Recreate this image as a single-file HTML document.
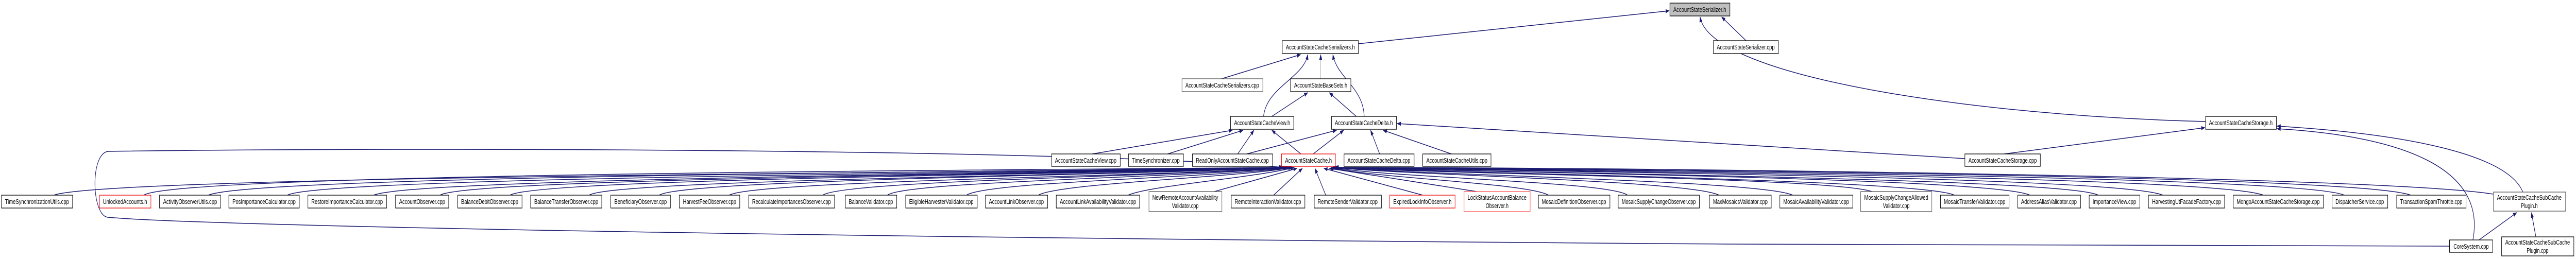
<!DOCTYPE html>
<html><head><meta charset="utf-8"><style>
html,body{margin:0;padding:0;background:#fff;width:100%;height:100%;overflow:hidden}
svg{display:block;width:100vw;height:100vh}
text{font-family:"Liberation Sans",Arial,sans-serif;font-size:13px;fill:#000;text-anchor:middle}
.b rect{fill:#fff;stroke:#000;stroke-width:1.3}
.g rect{stroke:#555}
.r rect{stroke:#e00}
.e{fill:none;stroke:#191970;stroke-width:1.5}
</style></head><body>
<svg viewBox="0 0 7170 503" preserveAspectRatio="none" xmlns="http://www.w3.org/2000/svg">
<defs><marker id="a" markerWidth="11" markerHeight="8" refX="10" refY="4" orient="auto" markerUnits="userSpaceOnUse"><path d="M0,0L11,4L0,8z" fill="#191970"/></marker></defs>
<g marker-end="url(#a)">
<path class="e" d="M3781,85 L4646,21"/>
<path class="e" d="M4860,79 L4792,33"/>
<path class="e" d="M6139,236 C5500,225 4760,150 4732,33"/>
<path class="e" d="M3400,153 L3620,106"/>
<path class="e" d="M3676,153 L3676,106" style="stroke:#999;stroke-width:1"/>
<path class="e" d="M3517,226 C3525,170 3630,150 3640,106"/>
<path class="e" d="M3797,226 C3795,170 3720,150 3710,106"/>
<path class="e" d="M3540,226 L3640,180"/>
<path class="e" d="M3775,226 L3700,180"/>
<path class="e" d="M5469,308 L3889,240"/>
<path class="e" d="M5578,299 L6137,248"/>
<path class="e" d="M3040,299 L3430,253"/>
<path class="e" d="M3250,299 L3460,253"/>
<path class="e" d="M3445,299 L3490,253"/>
<path class="e" d="M3470,299 L3720,253"/>
<path class="e" d="M3621,299 L3540,253"/>
<path class="e" d="M3655,299 L3740,253"/>
<path class="e" d="M3840,299 L3815,253"/>
<path class="e" d="M4040,299 L3850,253"/>
<path class="e" d="M7022,373 C6980,300 6700,260 6338,245"/>
<path class="e" d="M6883,466 C6920,330 6700,265 6338,250"/>
<path class="e" d="M6900,466 L7005,413"/>
<path class="e" d="M7058,459 L7046,413"/>
<path class="e" d="M6818,478 L4800,474 C2400,462 600,440 300,422 C255,418 250,300 300,294 C1200,285 3000,290 3570,325"/>
<path class="e" d="M150,379 C300,340 3000,335 3572,325"/>
<path class="e" d="M400,379 C500,335 3000,330 3574,325"/>
<path class="e" d="M580,379 C700,340 3000,333 3576,325"/>
<path class="e" d="M800,379 C900,342 3100,335 3578,325"/>
<path class="e" d="M1040,379 C1150,345 3100,336 3580,325"/>
<path class="e" d="M1225,379 C1300,345 3100,338 3582,325"/>
<path class="e" d="M1420,379 C1500,345 3200,338 3584,325"/>
<path class="e" d="M1640,379 C1700,348 3200,340 3586,325"/>
<path class="e" d="M1835,379 C1900,348 3200,340 3588,325"/>
<path class="e" d="M2030,379 C2100,350 3300,342 3590,325"/>
<path class="e" d="M2290,379 C2350,350 3300,342 3592,325"/>
<path class="e" d="M2470,379 C2520,352 3300,345 3594,325"/>
<path class="e" d="M2690,379 C2750,352 3400,345 3596,325"/>
<path class="e" d="M2890,379 C2950,355 3450,345 3598,325"/>
<path class="e" d="M3140,379 C3200,360 3500,345 3602,325"/>
<path class="e" d="M3380,372 L3610,327"/>
<path class="e" d="M3545,379 L3625,327"/>
<path class="e" d="M3690,379 L3660,327"/>
<path class="e" d="M3960,379 L3685,327"/>
<path class="e" d="M4110,372 L3700,327"/>
<path class="e" d="M4310,379 C4250,355 3800,345 3705,325"/>
<path class="e" d="M4530,379 C4480,352 3850,345 3708,325"/>
<path class="e" d="M4785,379 C4700,350 3900,340 3710,325"/>
<path class="e" d="M4990,379 C4900,350 3950,340 3711,325"/>
<path class="e" d="M5210,372 C5100,345 4000,338 3712,325"/>
<path class="e" d="M5440,379 C5350,348 4000,336 3713,325"/>
<path class="e" d="M5650,379 C5550,345 4100,335 3714,325"/>
<path class="e" d="M5840,379 C5750,345 4100,335 3715,325"/>
<path class="e" d="M6020,379 C5900,342 4200,333 3716,325"/>
<path class="e" d="M6300,379 C6150,340 4200,332 3716,325"/>
<path class="e" d="M6525,379 C6400,340 4300,330 3716,325"/>
<path class="e" d="M6710,379 C6550,338 4300,328 3716,325"/>
<path class="e" d="M6940,377 C6600,340 4400,325 3716,325"/>
</g>

<g class="b"><rect x="4648" y="6" width="167" height="25" style="fill:#bfbfbf"/><text x="4731" y="23" textLength="147" lengthAdjust="spacingAndGlyphs">AccountStateSerializer.h</text></g>
<g class="b"><rect x="4769" y="79" width="181" height="25"/><text x="4859" y="96" textLength="161" lengthAdjust="spacingAndGlyphs">AccountStateSerializer.cpp</text></g>
<g class="b"><rect x="3569" y="79" width="212" height="25"/><text x="3675" y="96" textLength="192" lengthAdjust="spacingAndGlyphs">AccountStateCacheSerializers.h</text></g>
<g class="b g"><rect x="3290" y="153" width="225" height="25"/><text x="3402" y="170" textLength="205" lengthAdjust="spacingAndGlyphs">AccountStateCacheSerializers.cpp</text></g>
<g class="b"><rect x="3592" y="153" width="168" height="25"/><text x="3676" y="170" textLength="148" lengthAdjust="spacingAndGlyphs">AccountStateBaseSets.h</text></g>
<g class="b"><rect x="3425" y="226" width="176" height="25"/><text x="3513" y="243" textLength="156" lengthAdjust="spacingAndGlyphs">AccountStateCacheView.h</text></g>
<g class="b"><rect x="3706" y="226" width="181" height="25"/><text x="3796" y="243" textLength="161" lengthAdjust="spacingAndGlyphs">AccountStateCacheDelta.h</text></g>
<g class="b"><rect x="6139" y="226" width="197" height="25"/><text x="6237" y="243" textLength="177" lengthAdjust="spacingAndGlyphs">AccountStateCacheStorage.h</text></g>

<g class="b"><rect x="2927" y="299" width="191" height="24"/><text x="3022" y="316" textLength="171" lengthAdjust="spacingAndGlyphs">AccountStateCacheView.cpp</text></g>
<g class="b"><rect x="3141" y="299" width="153" height="24"/><text x="3217" y="316" textLength="133" lengthAdjust="spacingAndGlyphs">TimeSynchronizer.cpp</text></g>
<g class="b"><rect x="3319" y="299" width="223" height="24"/><text x="3430" y="316" textLength="203" lengthAdjust="spacingAndGlyphs">ReadOnlyAccountStateCache.cpp</text></g>
<g class="b r"><rect x="3567" y="299" width="150" height="24"/><text x="3642" y="316" textLength="130" lengthAdjust="spacingAndGlyphs">AccountStateCache.h</text></g>
<g class="b"><rect x="3741" y="299" width="195" height="24"/><text x="3838" y="316" textLength="175" lengthAdjust="spacingAndGlyphs">AccountStateCacheDelta.cpp</text></g>
<g class="b"><rect x="3960" y="299" width="190" height="24"/><text x="4055" y="316" textLength="170" lengthAdjust="spacingAndGlyphs">AccountStateCacheUtils.cpp</text></g>
<g class="b"><rect x="5469" y="299" width="210" height="24"/><text x="5574" y="316" textLength="190" lengthAdjust="spacingAndGlyphs">AccountStateCacheStorage.cpp</text></g>

<g class="b"><rect x="4" y="379" width="198" height="25"/><text x="103" y="396" textLength="178" lengthAdjust="spacingAndGlyphs">TimeSynchronizationUtils.cpp</text></g>
<g class="b r"><rect x="277" y="379" width="143" height="25"/><text x="348" y="396" textLength="123" lengthAdjust="spacingAndGlyphs">UnlockedAccounts.h</text></g>
<g class="b"><rect x="444" y="379" width="170" height="25"/><text x="529" y="396" textLength="150" lengthAdjust="spacingAndGlyphs">ActivityObserverUtils.cpp</text></g>
<g class="b"><rect x="637" y="379" width="196" height="25"/><text x="735" y="396" textLength="176" lengthAdjust="spacingAndGlyphs">PosImportanceCalculator.cpp</text></g>
<g class="b"><rect x="857" y="379" width="219" height="25"/><text x="966" y="396" textLength="199" lengthAdjust="spacingAndGlyphs">RestoreImportanceCalculator.cpp</text></g>
<g class="b"><rect x="1101" y="379" width="148" height="25"/><text x="1175" y="396" textLength="128" lengthAdjust="spacingAndGlyphs">AccountObserver.cpp</text></g>
<g class="b"><rect x="1274" y="379" width="179" height="25"/><text x="1363" y="396" textLength="159" lengthAdjust="spacingAndGlyphs">BalanceDebitObserver.cpp</text></g>
<g class="b"><rect x="1477" y="379" width="198" height="25"/><text x="1576" y="396" textLength="178" lengthAdjust="spacingAndGlyphs">BalanceTransferObserver.cpp</text></g>
<g class="b"><rect x="1700" y="379" width="166" height="25"/><text x="1783" y="396" textLength="146" lengthAdjust="spacingAndGlyphs">BeneficiaryObserver.cpp</text></g>
<g class="b"><rect x="1891" y="379" width="168" height="25"/><text x="1975" y="396" textLength="148" lengthAdjust="spacingAndGlyphs">HarvestFeeObserver.cpp</text></g>
<g class="b"><rect x="2084" y="379" width="239" height="25"/><text x="2203" y="396" textLength="219" lengthAdjust="spacingAndGlyphs">RecalculateImportancesObserver.cpp</text></g>
<g class="b"><rect x="2353" y="379" width="143" height="25"/><text x="2424" y="396" textLength="123" lengthAdjust="spacingAndGlyphs">BalanceValidator.cpp</text></g>
<g class="b"><rect x="2521" y="379" width="199" height="25"/><text x="2620" y="396" textLength="179" lengthAdjust="spacingAndGlyphs">EligibleHarvesterValidator.cpp</text></g>
<g class="b"><rect x="2743" y="379" width="173" height="25"/><text x="2829" y="396" textLength="153" lengthAdjust="spacingAndGlyphs">AccountLinkObserver.cpp</text></g>
<g class="b"><rect x="2940" y="379" width="232" height="25"/><text x="3056" y="396" textLength="212" lengthAdjust="spacingAndGlyphs">AccountLinkAvailabilityValidator.cpp</text></g>
<g class="b g"><rect x="3198" y="372" width="203" height="39"/><text x="3299" y="388" textLength="183" lengthAdjust="spacingAndGlyphs">NewRemoteAccountAvailability</text><text x="3299" y="404">Validator.cpp</text></g>
<g class="b"><rect x="3427" y="379" width="205" height="25"/><text x="3529" y="396" textLength="185" lengthAdjust="spacingAndGlyphs">RemoteInteractionValidator.cpp</text></g>
<g class="b"><rect x="3658" y="379" width="187" height="25"/><text x="3751" y="396" textLength="167" lengthAdjust="spacingAndGlyphs">RemoteSenderValidator.cpp</text></g>
<g class="b r"><rect x="3868" y="379" width="182" height="25"/><text x="3959" y="396" textLength="162" lengthAdjust="spacingAndGlyphs">ExpiredLockInfoObserver.h</text></g>
<g class="b r"><rect x="4075" y="372" width="184" height="39" style="stroke:#f55"/><text x="4167" y="388" textLength="164" lengthAdjust="spacingAndGlyphs">LockStatusAccountBalance</text><text x="4167" y="404">Observer.h</text></g>
<g class="b"><rect x="4282" y="379" width="199" height="25"/><text x="4381" y="396" textLength="179" lengthAdjust="spacingAndGlyphs">MosaicDefinitionObserver.cpp</text></g>
<g class="b"><rect x="4504" y="379" width="226" height="25"/><text x="4617" y="396" textLength="206" lengthAdjust="spacingAndGlyphs">MosaicSupplyChangeObserver.cpp</text></g>
<g class="b"><rect x="4758" y="379" width="172" height="25"/><text x="4844" y="396" textLength="152" lengthAdjust="spacingAndGlyphs">MaxMosaicsValidator.cpp</text></g>
<g class="b"><rect x="4954" y="379" width="203" height="25"/><text x="5055" y="396" textLength="183" lengthAdjust="spacingAndGlyphs">MosaicAvailabilityValidator.cpp</text></g>
<g class="b g"><rect x="5179" y="372" width="198" height="39"/><text x="5278" y="388" textLength="178" lengthAdjust="spacingAndGlyphs">MosaicSupplyChangeAllowed</text><text x="5278" y="404">Validator.cpp</text></g>
<g class="b"><rect x="5401" y="379" width="191" height="25"/><text x="5496" y="396" textLength="171" lengthAdjust="spacingAndGlyphs">MosaicTransferValidator.cpp</text></g>
<g class="b"><rect x="5616" y="379" width="175" height="25"/><text x="5703" y="396" textLength="155" lengthAdjust="spacingAndGlyphs">AddressAliasValidator.cpp</text></g>
<g class="b"><rect x="5815" y="379" width="141" height="25"/><text x="5885" y="396" textLength="121" lengthAdjust="spacingAndGlyphs">ImportanceView.cpp</text></g>
<g class="b"><rect x="5980" y="379" width="212" height="25"/><text x="6086" y="396" textLength="192" lengthAdjust="spacingAndGlyphs">HarvestingUtFacadeFactory.cpp</text></g>
<g class="b"><rect x="6216" y="379" width="251" height="25"/><text x="6341" y="396" textLength="231" lengthAdjust="spacingAndGlyphs">MongoAccountStateCacheStorage.cpp</text></g>
<g class="b"><rect x="6491" y="379" width="155" height="25"/><text x="6568" y="396" textLength="135" lengthAdjust="spacingAndGlyphs">DispatcherService.cpp</text></g>
<g class="b"><rect x="6671" y="379" width="193" height="25"/><text x="6767" y="396" textLength="173" lengthAdjust="spacingAndGlyphs">TransactionSpamThrottle.cpp</text></g>
<g class="b g"><rect x="6940" y="373" width="201" height="37"/><text x="7040" y="388" textLength="180" lengthAdjust="spacingAndGlyphs">AccountStateCacheSubCache</text><text x="7040" y="404">Plugin.h</text></g>
<g class="b"><rect x="6818" y="466" width="120" height="24"/><text x="6878" y="483" textLength="98" lengthAdjust="spacingAndGlyphs">CoreSystem.cpp</text></g>
<g class="b"><rect x="6963" y="460" width="201" height="37"/><text x="7063" y="475" textLength="180" lengthAdjust="spacingAndGlyphs">AccountStateCacheSubCache</text><text x="7063" y="491">Plugin.cpp</text></g>
</svg>
</body></html>
